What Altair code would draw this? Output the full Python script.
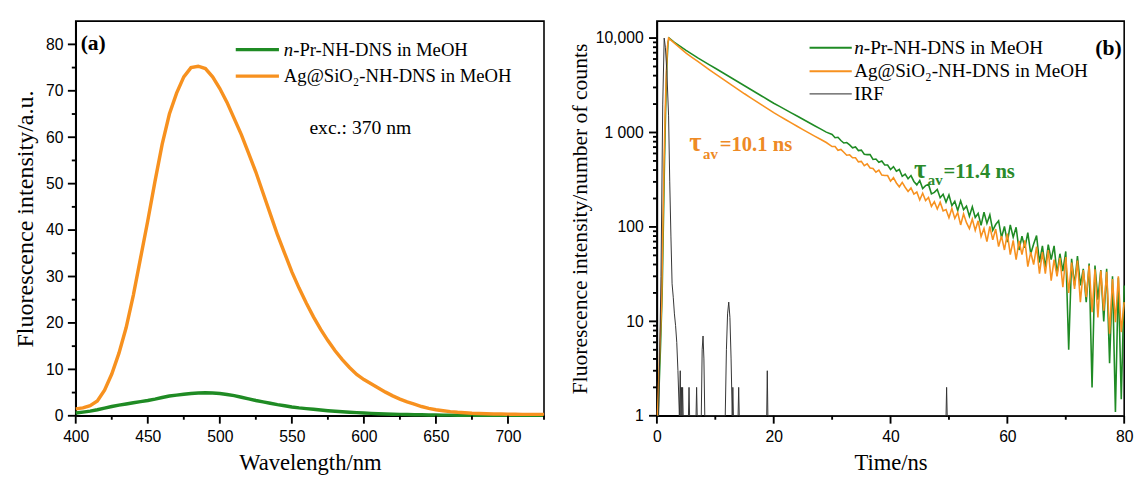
import altair as alt
import pandas as pd

SERIF = "Liberation Serif"
SANS = "Liberation Sans"
GREEN = "#1f8b24"
ORANGE = "#f7911f"
GREEN_TXT = "#2a8a2a"
ORANGE_TXT = "#ee8a25"

# ---------------- panel (a): emission spectra ----------------
wavelength = list(range(400, 730, 5))
pl_npr = [0.6, 0.8, 1.0, 1.3, 1.65, 2.0, 2.3, 2.55, 2.8, 3.05,
          3.3, 3.6, 3.95, 4.25, 4.45, 4.65, 4.8, 4.9, 4.95, 4.9,
          4.8, 4.6, 4.35, 4.0, 3.65, 3.3, 3.0, 2.7, 2.4, 2.15,
          1.9, 1.7, 1.55, 1.4, 1.25, 1.1, 0.98, 0.88, 0.78, 0.68,
          0.6, 0.52, 0.45, 0.4, 0.35, 0.3, 0.27, 0.24, 0.21, 0.19,
          0.17, 0.15, 0.14, 0.13, 0.12, 0.11, 0.1, 0.1, 0.1, 0.1,
          0.1, 0.1, 0.1, 0.1, 0.1, 0.1]
pl_ag = [1.5, 1.7, 2.2, 3.2, 5.5, 9.0, 13.5, 19.0, 26.0, 34.0,
         42.0, 50.5, 58.5, 65.0, 69.5, 73.0, 75.0, 75.3, 74.8, 73.0,
         70.5, 67.5, 64.0, 60.5, 56.5, 52.5, 48.0, 43.5, 39.0, 35.0,
         31.0, 27.5, 24.3, 21.3, 18.6, 16.2, 14.0, 12.1, 10.4, 8.9,
         7.8, 6.9, 6.0, 5.1, 4.3, 3.6, 3.0, 2.5, 2.0, 1.6,
         1.3, 1.1, 0.9, 0.75, 0.65, 0.55, 0.5, 0.45, 0.4, 0.4,
         0.35, 0.35, 0.3, 0.3, 0.3, 0.3]

# axis tick positions, panel (a)
a_x_major = [400, 450, 500, 550, 600, 650, 700]
a_x_minor = [425, 475, 525, 575, 625, 675, 725]
a_y_major = [0, 10, 20, 30, 40, 50, 60, 70, 80]
a_y_minor = [5, 15, 25, 35, 45, 55, 65, 75]

# ---------------- panel (b): decay curves ----------------
tail_t = [30 + 0.5 * i for i in range(101)]
early_t = list(range(3, 30))

npr_rise_t = [0.2, 0.6, 0.9, 1.1, 1.3, 1.5, 1.7, 1.9, 2.1]
npr_rise_v = [1, 5, 20, 100, 500, 1800, 5000, 9000, 10000]
npr_early_v = [9016, 8166, 7413, 6761, 6166, 5662, 5200, 4786, 4395, 4036,
               3707, 3404, 3126, 2871, 2636, 2421, 2223, 2042, 1888, 1746,
               1614, 1493, 1380, 1276, 1180, 1091, 1009]
npr_tail_v = [952, 879, 889, 822, 774, 782, 738, 689, 702, 643,
              650, 589, 583, 583, 518, 524, 484, 499, 452, 453,
              406, 435, 390, 406, 343, 362, 324, 350, 303, 279,
              311, 255, 274, 282, 224, 232, 249, 204, 222, 183,
              218, 168, 187, 149, 189, 152, 166, 130, 163, 126,
              139, 104, 143, 109, 134, 92, 106, 116, 77, 101,
              69, 105, 78, 99, 57, 80, 60, 87, 52, 66,
              81, 42, 63, 37, 65, 45, 63, 32, 52, 34,
              55, 5, 46, 24, 49, 24, 36, 16, 41, 2,
              39, 17, 35, 10, 36, 3.6, 30, 1.1, 29, 1.5,
              24]

ag_rise_t = [0.1, 0.5, 0.8, 1.0, 1.2, 1.4, 1.6, 1.8, 2.0]
ag_rise_v = [1, 5, 15, 80, 400, 1500, 4000, 8000, 10000]
ag_early_v = [8850, 7834, 6918, 6250, 5650, 5105, 4613, 4169, 3784, 3436,
              3119, 2831, 2570, 2344, 2138, 1950, 1778, 1622, 1493, 1374,
              1265, 1164, 1072, 991, 916, 847, 783]
ag_tail_v = [710, 710, 648, 661, 617, 574, 580, 541, 541, 489,
             494, 446, 465, 420, 416, 380, 399, 354, 351, 350,
             305, 332, 292, 266, 296, 263, 237, 259, 223, 234,
             193, 227, 190, 205, 165, 185, 155, 183, 148, 153,
             125, 157, 123, 142, 105, 137, 111, 96, 121, 92,
             116, 79, 96, 70, 101, 73, 95, 62, 80, 57,
             85, 51, 72, 45, 71, 51, 72, 38, 54, 40,
             62, 32, 54, 32, 57, 27, 45, 30, 47, 23,
             48, 20, 42, 22, 44, 16, 35, 18, 39, 12.5,
             35.5, 11, 34.5, 13, 33.5, 7.4, 28, 9.8, 30, 7.7,
             16]

irf_t = [0.3, 0.7, 1.0, 1.25, 1.45, 1.7, 2.0, 2.2, 2.4, 2.6,
         2.8, 3.0, 3.2, 3.4, 3.6, 3.85, 4.0, 4.1, 4.2, 4.3,
         4.4, 4.5, 4.6, 5.4, 5.5, 5.6, 6.7, 6.8, 6.9, 7.6,
         7.75, 7.9, 8.05, 8.2, 11.7, 11.9, 12.1, 12.3, 12.5, 12.7,
         12.9, 13.0, 13.1, 13.9, 14.0, 14.1, 18.8, 18.9, 19.0, 49.5,
         49.6, 49.7, 80]
irf_v = [1, 30, 2000, 10000, 8000, 4500, 1500, 300, 80, 25,
         18, 12, 9, 6, 3, 1, 3, 1, 2, 1,
         2, 1, 1, 1, 2, 1, 1, 2, 1, 1,
         5, 7, 4, 1, 1, 5, 12, 16, 11, 4,
         1, 2, 1, 1, 2, 1, 1, 3, 1, 1,
         2, 1, 1]

# axis tick positions, panel (b)
b_x_major = [0, 20, 40, 60, 80]
b_x_minor = [10, 30, 50, 70]
b_y_major = [1, 10, 100, 1000, 10000]
b_y_minor = [2, 3, 4, 5, 6, 7, 8, 9, 20, 30, 40, 50, 60, 70, 80, 90,
             200, 300, 400, 500, 600, 700, 800, 900,
             2000, 3000, 4000, 5000, 6000, 7000, 8000, 9000]

# ---------------- helpers ----------------
one = pd.DataFrame({"k": [0]})
PLOT_H = 402
TICK_W = 1.9


def txt(text, x, y, size, color="black", weight="normal", style="normal",
        align="left", baseline="middle", font=SERIF):
    return alt.Chart(one).mark_text(
        text=text, align=align, baseline=baseline, font=font, fontSize=size,
        fontWeight=weight, fontStyle=style, color=color
    ).encode(x=alt.value(x), y=alt.value(y))


def seg(x1, x2, y, color, width):
    return alt.Chart(one).mark_rule(color=color, strokeWidth=width).encode(
        x=alt.value(x1), x2=alt.value(x2), y=alt.value(y))


def xticks(field, vals, enc, length):
    df = pd.DataFrame({field: vals})
    return alt.Chart(df).mark_rule(color="black", strokeWidth=TICK_W).encode(
        x=enc, y=alt.value(PLOT_H), y2=alt.value(PLOT_H + length))


def yticks(field, vals, enc, length):
    df = pd.DataFrame({field: vals})
    return alt.Chart(df).mark_rule(color="black", strokeWidth=TICK_W).encode(
        y=enc, x=alt.value(0), x2=alt.value(-length))


# ---------------- panel (a) ----------------
df_a_npr = pd.DataFrame({"wl": wavelength, "I": pl_npr})
df_a_ag = pd.DataFrame({"wl": wavelength, "I": pl_ag})

xa = alt.X("wl:Q", scale=alt.Scale(domain=[400, 725], nice=False, zero=False),
           axis=alt.Axis(values=a_x_major, title="Wavelength/nm", ticks=False,
                         labelPadding=13, titlePadding=8, titleFontSize=23,
                         labelOverlap=False, labelFlush=False))
ya = alt.Y("I:Q", scale=alt.Scale(domain=[0, 85], nice=False, zero=False),
           axis=alt.Axis(values=a_y_major, title="Fluorescence intensity/a.u.", ticks=False,
                         labelPadding=13, titlePadding=8, titleFontSize=24.5,
                         labelOverlap=False, labelFlush=False))

line_a_npr = alt.Chart(df_a_npr).mark_line(color=GREEN, strokeWidth=3.5).encode(x=xa, y=ya)
line_a_ag = alt.Chart(df_a_ag).mark_line(color=ORANGE, strokeWidth=3.5).encode(x=xa, y=ya)

panel_a = alt.layer(
    line_a_npr, line_a_ag,
    xticks("wl", a_x_major, xa, 8), xticks("wl", a_x_minor, xa, 4),
    yticks("I", a_y_major, ya, 8), yticks("I", a_y_minor, ya, 4),
    txt("(a)", 5, 22, 22, weight="bold"),
    seg(163, 207, 29, GREEN, 3.5),
    seg(163, 207, 56, ORANGE, 3.5),
    txt("n", 212, 29, 19, style="italic"),
    txt("-Pr-NH-DNS in MeOH", 221.5, 29, 19),
    txt("Ag@SiO\u2082-NH-DNS in MeOH", 212, 56, 19),
    txt("exc.: 370 nm", 238, 109, 20),
).properties(width=477, height=PLOT_H)

# ---------------- panel (b) ----------------
df_b_npr = pd.DataFrame({"t": npr_rise_t + early_t + tail_t,
                         "c": npr_rise_v + npr_early_v + npr_tail_v})
df_b_ag = pd.DataFrame({"t": ag_rise_t + early_t + tail_t,
                        "c": ag_rise_v + ag_early_v + ag_tail_v})
df_b_irf = pd.DataFrame({"t": irf_t, "c": irf_v})

xb = alt.X("t:Q", scale=alt.Scale(domain=[0, 80], nice=False, zero=False),
           axis=alt.Axis(values=b_x_major, title="Time/ns", ticks=False,
                         labelPadding=13, titlePadding=8, titleFontSize=23,
                         labelOverlap=False, labelFlush=False))
yb = alt.Y("c:Q", scale=alt.Scale(type="log", domain=[1, 15100], nice=False),
           axis=alt.Axis(values=b_y_major, title="Fluorescence intensity/number of counts",
                         ticks=False,
                         labelExpr="datum.value == 10000 ? '10,000' : datum.value == 1000 ? '1 000' : "
                                   "datum.value == 100 ? '100' : datum.value == 10 ? '10' : '1'",
                         labelPadding=14, titlePadding=4, titleFontSize=22,
                         labelOverlap=False, labelFlush=False))

line_b_npr = alt.Chart(df_b_npr).mark_line(color=GREEN, strokeWidth=1.6).encode(x=xb, y=yb)
line_b_ag = alt.Chart(df_b_ag).mark_line(color=ORANGE, strokeWidth=1.6).encode(x=xb, y=yb)
line_b_irf = alt.Chart(df_b_irf).mark_line(color="#333333", strokeWidth=1).encode(x=xb, y=yb)

panel_b = alt.layer(
    line_b_npr, line_b_ag, line_b_irf,
    xticks("t", b_x_major, xb, 8), xticks("t", b_x_minor, xb, 4),
    yticks("c", b_y_major, yb, 8), yticks("c", b_y_minor, yb, 4),
    seg(155.5, 198.5, 27, GREEN, 2),
    seg(155.5, 198.5, 51, ORANGE, 2),
    seg(155.5, 198.5, 74, "#555555", 1.2),
    txt("n", 201, 27, 19.5, style="italic"),
    txt("-Pr-NH-DNS in MeOH", 210.8, 27, 19.5),
    txt("Ag@SiO\u2082-NH-DNS in MeOH", 201, 51, 19.5),
    txt("IRF", 201, 74, 19.5),
    txt("(b)", 473.5, 27, 22, weight="bold", align="right"),
    txt("\u03c4", 33, 132, 27, color=ORANGE_TXT, weight="bold", baseline="alphabetic"),
    txt("av", 47, 140, 15, color=ORANGE_TXT, weight="bold", baseline="alphabetic"),
    txt("=10.1 ns", 64, 132, 21, color=ORANGE_TXT, weight="bold", baseline="alphabetic"),
    txt("\u03c4", 262, 160, 27, color=GREEN_TXT, weight="bold", baseline="alphabetic"),
    txt("av", 276, 167, 15, color=GREEN_TXT, weight="bold", baseline="alphabetic"),
    txt("=11.4 ns", 292, 160, 21, color=GREEN_TXT, weight="bold", baseline="alphabetic"),
).properties(width=476, height=PLOT_H)

chart = alt.hconcat(panel_a, panel_b, spacing=16).properties(
    padding={"left": 4, "top": 8, "right": 0, "bottom": 0}
).configure_view(
    stroke="black", strokeWidth=1.6
).configure_axis(
    labelFont=SANS, labelFontSize=16, labelColor="black",
    titleFont=SERIF, titleFontSize=22, titleFontWeight="normal", titleColor="black",
    domainColor="black", domainWidth=1.6, grid=False
)

chart.save("out.html", embed_options={"renderer": "svg", "actions": False})
